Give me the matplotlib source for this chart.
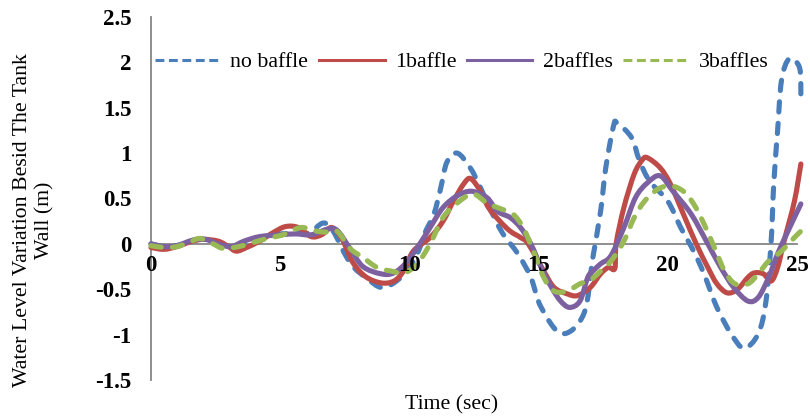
import matplotlib
matplotlib.use("Agg")
import matplotlib.pyplot as plt
from matplotlib.path import Path
from matplotlib.patches import PathPatch
from matplotlib.lines import Line2D

plt.rcParams["font.family"] = ["Liberation Serif", "DejaVu Serif"]

# water level beside the tank wall (m) against time (sec)
t_none = [0, 0.5, 1.0, 1.8, 2.5, 3.2, 4.0, 4.8, 5.5, 6.1, 6.67, 7.05, 7.5, 7.85, 8.4,
          8.9, 9.4, 9.96, 10.35, 10.6, 10.95, 11.2, 11.45, 11.85, 12.35, 12.75, 13.1,
          13.6, 14.2, 14.7, 15.1, 15.9, 16.75, 17.1, 17.4, 17.6, 17.9, 18.05, 18.6,
          18.9, 19.3, 20.0, 20.5, 21.0, 21.4, 21.9, 22.45, 22.95, 23.5, 23.8, 24.0,
          24.1, 24.25, 24.4, 24.7, 25.1, 25.15]
no_baffle = [0.0, -0.03, -0.02, 0.05, 0.03, -0.04, 0.04, 0.1, 0.12, 0.12, 0.23, 0.14,
             -0.11, -0.26, -0.39, -0.48, -0.43, -0.28, -0.08, 0.12, 0.33, 0.6, 0.9,
             1.0, 0.84, 0.62, 0.4, 0.12, -0.11, -0.37, -0.7, -0.99, -0.77, -0.15, 0.36,
             0.84, 1.3, 1.33, 1.17, 0.92, 0.69, 0.47, 0.18, -0.08, -0.33, -0.7, -0.99,
             -1.15, -0.99, -0.63, 0.03, 0.66, 1.25, 1.8, 2.04, 1.94, 1.61]

t_one = [0, 0.5, 1.0, 1.5, 2.0, 2.6, 3.0, 3.3, 3.7, 4.2, 4.7, 5.2, 5.7, 6.2, 6.6, 7.0,
         7.4, 7.8, 8.3, 8.9, 9.4, 9.77, 10.15, 10.8, 11.3, 11.7, 12.1, 12.37, 12.75,
         13.06, 13.5, 13.9, 14.3, 14.6, 15.2, 15.6, 16.1, 16.5, 17.0, 17.4, 17.7,
         17.95, 18.0, 18.3, 18.7, 19.0, 19.2, 19.7, 20.1, 20.6, 21.1, 21.55, 21.9,
         22.3, 22.7, 23.1, 23.35, 23.7, 24.0, 24.25, 24.5, 24.9, 25.15]
one_baffle = [-0.04, -0.06, -0.03, 0.02, 0.05, 0.03, -0.03, -0.08, -0.04, 0.03, 0.12,
              0.19, 0.18, 0.08, 0.1, 0.18, 0.05, -0.2, -0.36, -0.43, -0.41, -0.3,
              -0.08, 0.07, 0.25, 0.47, 0.66, 0.72, 0.58, 0.4, 0.25, 0.14, 0.07, 0.0,
              -0.3, -0.48, -0.55, -0.57, -0.48, -0.33, -0.26, -0.27, 0.0, 0.4, 0.77,
              0.92, 0.95, 0.84, 0.66, 0.33, 0.0, -0.26, -0.44, -0.54, -0.5, -0.37,
              -0.32, -0.33, -0.41, -0.26, 0.03, 0.47, 0.88]

t_two = [0, 0.5, 1.0, 1.6, 2.1, 2.6, 3.1, 3.6, 4.2, 5.0, 5.6, 6.2, 6.8, 7.2, 7.7, 8.2,
         8.9, 9.4, 9.9, 10.4, 10.8, 11.3, 11.85, 12.4, 13.0, 13.4, 13.9, 14.3, 14.7,
         15.1, 15.5, 15.85, 16.2, 16.6, 16.9, 17.1, 17.4, 17.8, 18.3, 18.75, 19.2,
         19.7, 20.2, 20.9, 21.55, 22.05, 22.55, 23.1, 23.5, 23.9, 24.25, 24.65, 25.15]
two_baffles = [0.0, -0.03, -0.02, 0.04, 0.05, 0.0, -0.03, 0.03, 0.08, 0.1, 0.11, 0.1,
               0.16, 0.15, -0.05, -0.25, -0.33, -0.32, -0.2, 0.0, 0.18, 0.4, 0.53, 0.58,
               0.51, 0.36, 0.29, 0.18, 0.0, -0.26, -0.48, -0.63, -0.7, -0.63, -0.37,
               -0.3, -0.22, -0.13, 0.18, 0.51, 0.67, 0.75, 0.58, 0.33, 0.0, -0.26,
               -0.48, -0.63, -0.59, -0.37, -0.11, 0.14, 0.44]

t_three = [0, 0.5, 1.0, 1.5, 1.9, 2.4, 2.8, 3.4, 3.9, 4.5, 5.1, 5.8, 6.4, 6.8, 7.2, 7.7,
           8.2, 8.75, 9.3, 9.8, 10.3, 10.8, 11.3, 11.85, 12.45, 13.0, 13.5, 14.0, 14.4,
           14.8, 15.2, 15.6, 16.1, 16.6, 17.0, 17.4, 17.8, 18.3, 18.7, 19.1, 19.6,
           20.1, 20.6, 21.0, 21.4, 21.8, 22.2, 22.6, 23.1, 23.5, 23.9, 24.4, 24.9, 25.15]
three_baffles = [-0.02, -0.04, -0.03, 0.02, 0.06, 0.0, -0.05, -0.03, 0.01, 0.06, 0.1,
                 0.18, 0.14, 0.13, 0.14, -0.05, -0.15, -0.26, -0.3, -0.32, -0.22, 0.0,
                 0.29, 0.45, 0.55, 0.45, 0.39, 0.33, 0.18, -0.08, -0.37, -0.52, -0.52,
                 -0.44, -0.4, -0.3, -0.19, 0.03, 0.29, 0.47, 0.6, 0.64, 0.58, 0.44, 0.22,
                 -0.04, -0.3, -0.44, -0.44, -0.33, -0.19, -0.08, 0.07, 0.14]

labels = ["no baffle", "1baffle", "2baffles", "3baffles"]
colors = ["#4A7EBB", "#BE4B48", "#7D60A0", "#98B954"]
dashed = [True, False, False, True]


def smooth_path(xs, ys):
    # smoothed line like a spreadsheet chart: cubic bezier through each point
    pts = list(zip(xs, ys))
    n = len(pts)
    verts = [pts[0]]
    codes = [Path.MOVETO]
    for i in range(n - 1):
        p0 = pts[i - 1] if i > 0 else pts[i]
        p1 = pts[i]
        p2 = pts[i + 1]
        p3 = pts[i + 2] if i + 2 < n else pts[i + 1]
        c1 = (p1[0] + (p2[0] - p0[0]) / 6, p1[1] + (p2[1] - p0[1]) / 6)
        c2 = (p2[0] - (p3[0] - p1[0]) / 6, p2[1] - (p3[1] - p1[1]) / 6)
        verts += [c1, c2, p2]
        codes += [Path.CURVE4] * 3
    return Path(verts, codes)


fig = plt.figure(figsize=(8.1, 4.18), dpi=100)
ax = fig.add_axes([151 / 810, 38 / 418, 646 / 810, 363 / 418])
ax.set_xlim(0, 25)
ax.set_ylim(-1.5, 2.5)

series = [(t_none, no_baffle), (t_one, one_baffle), (t_two, two_baffles), (t_three, three_baffles)]
handles = []
for (xs, ys), lab, col, dsh in zip(series, labels, colors, dashed):
    patch = PathPatch(smooth_path(xs, ys), fill=False, edgecolor=col, lw=3.7,
                      clip_on=False, capstyle="round", joinstyle="round")
    if dsh:
        patch.set_linestyle((0, (2.0, 2.2)))
    ax.add_patch(patch)
    handles.append(Line2D([], [], color=col, lw=2.2,
                          linestyle=(0, (2.9, 1.5)) if dsh else "-"))

for side in ["top", "right"]:
    ax.spines[side].set_visible(False)
ax.spines["left"].set_color("#868686")
ax.spines["left"].set_linewidth(1.3)
ax.spines["bottom"].set_position(("data", 0))
ax.spines["bottom"].set_color("#868686")
ax.spines["bottom"].set_linewidth(1.3)
ax.spines["left"].set_zorder(0.5)
ax.spines["bottom"].set_zorder(0.5)

ax.set_xticks([0, 5, 10, 15, 20, 25])
ax.set_yticks([-1.5, -1, -0.5, 0, 0.5, 1, 1.5, 2, 2.5])
ax.set_yticklabels(["-1.5", "-1", "-0.5", "0", "0.5", "1", "1.5", "2", "2.5"])
ax.tick_params(axis="both", length=0, labelsize=16.5)
ax.tick_params(axis="x", pad=8)
ax.tick_params(axis="y", pad=14)
for lbl in ax.get_xticklabels() + ax.get_yticklabels():
    lbl.set_fontweight("bold")

fig.legend(handles, labels, loc="center left", bbox_to_anchor=(155 / 810, 1 - 62 / 418),
           ncol=4, frameon=False, fontsize=15.7, handlelength=3.0, handletextpad=0.46,
           columnspacing=0.5, borderpad=0, borderaxespad=0)

fig.text(34 / 810, 1 - 220 / 418, "Water Level Variation Besid The Tank\nWall (m)",
         rotation=90, ha="center", va="center", multialignment="center", fontsize=15.7)
fig.text(452 / 810, 1 - 405 / 418, "Time (sec)", ha="center", va="center", fontsize=15.7)

fig.savefig("out.png", dpi=100)
